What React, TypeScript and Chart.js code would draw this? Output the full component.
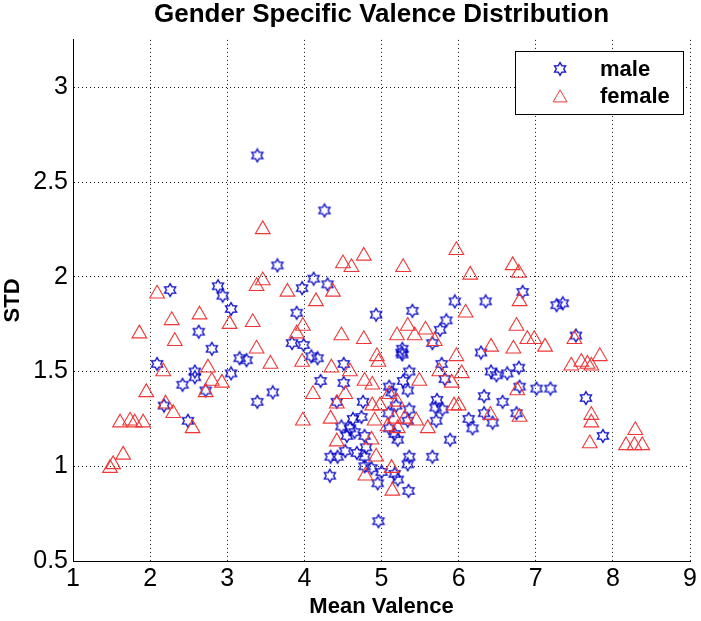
import React, { useEffect, useRef } from 'react';
import { Chart, registerables } from 'chart.js';
Chart.register(...registerables);

const TITLE = 'Gender Specific Valence Distribution';
const X_TITLE = 'Mean Valence';
const Y_TITLE = 'STD';
const seriesNames = ['male', 'female'];

const xTicks = [1, 2, 3, 4, 5, 6, 7, 8, 9];
const yTicks = [0.5, 1, 1.5, 2, 2.5, 3];
const yTickLabels = ['0.5', '1', '1.5', '2', '2.5', '3'];

const maleX = [3.39, 4.26, 3.65, 4.12, 4.30, 3.97, 2.88, 2.94, 3.05, 2.26, 3.90,
  2.63, 2.80, 3.84, 3.99, 3.16, 3.25, 4.09, 4.17, 2.09, 2.58, 2.58, 3.05, 2.42, 2.72,
  3.39, 3.59, 4.21, 4.51, 4.51, 4.42, 2.18, 2.49,
  4.48, 4.59, 4.55, 4.65, 4.63, 4.74, 4.76,
  4.53, 4.34, 4.43, 4.68, 4.78, 4.33,
  5.36, 5.28, 5.78, 5.82, 5.10, 5.13, 5.34, 5.19, 5.36, 5.72, 5.70, 5.79, 5.09, 5.34, 5.71,
  5.10, 5.17, 5.21, 4.78, 4.80, 5.36, 5.66, 5.34, 4.78, 4.87, 5.00, 5.17, 5.21, 4.95, 5.35, 4.96,
  5.26, 6.42, 6.29, 6.33, 6.13, 6.18, 6.44, 6.33, 5.89,
  5.95, 6.35, 5.40, 4.93, 5.84, 5.76, 5.66, 5.27, 5.27,
  6.83, 7.27, 7.35, 6.49, 6.63, 6.78, 6.79, 7.01, 7.19, 6.57, 6.75,
  7.52, 7.65, 7.87];
const maleY = [2.64, 2.35, 2.06, 1.99, 1.96, 1.94, 1.95, 1.90, 1.83, 1.93, 1.81,
  1.71, 1.62, 1.65, 1.64, 1.57, 1.56, 1.58, 1.57, 1.54, 1.50, 1.47, 1.49, 1.43, 1.40,
  1.34, 1.39, 1.45, 1.54, 1.44, 1.34, 1.32, 1.24,
  1.21, 1.20, 1.16, 1.18, 1.25, 1.26, 1.34,
  1.08, 1.05, 1.05, 1.07, 1.05, 0.95,
  1.50, 1.45, 1.54, 1.46, 1.42, 1.39, 1.40, 1.32, 1.30, 1.35, 1.31, 1.30, 1.28, 1.24, 1.24,
  1.20, 1.17, 1.14, 1.16, 1.10, 1.05, 1.05, 1.01, 1.00, 0.99, 0.97, 0.96, 0.93, 0.91, 0.87, 0.71,
  1.60, 1.50, 1.60, 1.37, 1.25, 1.20, 1.23, 1.28, 1.14,
  1.87, 1.87, 1.82, 1.80, 1.77, 1.72, 1.65, 1.62, 1.59,
  1.92, 1.85, 1.86, 1.48, 1.49, 1.52, 1.42, 1.41, 1.41, 1.34, 1.28,
  1.69, 1.36, 1.16];

const femaleX = [3.46, 4.50, 4.61, 4.77, 4.37, 3.78, 3.46, 3.38, 2.09, 4.15,
  2.28, 2.64, 3.03, 3.33, 1.86, 2.32, 3.38, 3.98, 3.90, 3.56, 3.97, 2.17, 2.75, 2.80, 2.93,
  2.72, 1.95, 4.11, 4.35, 4.59, 4.53, 4.42, 2.20, 2.30, 2.55, 1.61, 1.74, 1.80, 1.91,
  1.65, 1.52, 1.48, 3.98, 4.34, 4.78, 4.77, 4.48, 4.42,
  4.96, 5.49, 5.75, 4.88, 4.88, 4.98, 5.10, 5.20, 4.91, 5.17, 5.30, 5.45, 5.08, 5.21, 5.60,
  4.87, 4.93, 4.79, 5.13, 5.14,
  4.94, 5.97, 6.04, 5.91, 5.94, 6.00, 6.41,
  5.28, 5.97, 6.15, 6.09, 5.34, 5.57, 5.20, 5.43, 5.69, 6.42,
  6.79, 6.75, 6.89, 6.98, 7.12, 6.71, 6.76, 6.79, 6.70, 6.78,
  7.50, 7.83, 7.46, 7.59, 7.67, 7.72, 7.72, 7.72, 7.70, 8.29, 8.17, 8.28, 8.38];
const femaleY = [2.25, 2.07, 2.05, 2.11, 1.92, 1.92, 1.98, 1.95, 1.91, 1.87,
  1.77, 1.80, 1.75, 1.76, 1.70, 1.66, 1.62, 1.74, 1.70, 1.54, 1.55, 1.50, 1.52, 1.45, 1.44,
  1.39, 1.39, 1.38, 1.52, 1.50, 1.38, 1.33, 1.33, 1.28, 1.20, 1.23, 1.24, 1.23, 1.23,
  1.06, 1.01, 0.99, 1.24, 1.25, 1.45, 1.67, 1.69, 1.13,
  1.55, 1.45, 1.50, 1.43, 1.32, 1.32, 1.38, 1.34, 1.24, 1.25, 1.25, 1.24, 1.21, 1.20, 1.20,
  1.14, 1.05, 0.95, 0.99, 0.87,
  1.58, 1.58, 1.49, 1.44, 1.32, 1.32, 1.27,
  2.05, 2.14, 2.01, 1.81, 1.74, 1.72, 1.69, 1.69, 1.66, 1.63,
  1.87, 1.74, 1.67, 1.67, 1.63, 1.62, 1.40, 1.26, 2.06, 2.02,
  1.67, 1.58, 1.53, 1.55, 1.54, 1.53, 1.27, 1.23, 1.12, 1.19, 1.11, 1.11, 1.11];

const BLUE = '#0a0ac8';
const RED = 'rgb(240,55,55)';
const FONT = '"Liberation Sans", Arial, Helvetica, sans-serif';

function makeHexagram(color: string): HTMLCanvasElement {
  const c = document.createElement('canvas');
  c.width = 16;
  c.height = 16;
  const ctx = c.getContext('2d')!;
  const cx = 8, cy = 8, R = 6.4, r = R / Math.sqrt(3);
  ctx.beginPath();
  for (let i = 0; i < 12; i++) {
    const ang = -Math.PI / 2 + (i * Math.PI) / 6;
    const rad = i % 2 === 0 ? R : r;
    const x = cx + rad * Math.cos(ang);
    const y = cy + rad * Math.sin(ang);
    if (i === 0) ctx.moveTo(x, y);
    else ctx.lineTo(x, y);
  }
  ctx.closePath();
  ctx.strokeStyle = color;
  ctx.lineWidth = 1.3;
  ctx.stroke();
  return c;
}

export default function App() {
  const ref = useRef<HTMLCanvasElement | null>(null);

  useEffect(() => {
    document.body.style.margin = '0';
    const canvas = ref.current;
    if (!canvas) return;
    const star = makeHexagram(BLUE);

    const legendBox = {
      id: 'legendBox',
      afterDraw(chart: any) {
        const ctx = chart.ctx as CanvasRenderingContext2D;
        const a = chart.chartArea;
        const x0 = a.right - 175, y0 = a.top + 11, w = 168, h = 63;
        ctx.save();
        ctx.fillStyle = '#fff';
        ctx.fillRect(x0, y0, w, h);
        ctx.strokeStyle = '#000';
        ctx.lineWidth = 1;
        ctx.strokeRect(Math.round(x0) + 0.5, Math.round(y0) + 0.5, w, h);
        const mx = x0 + 45;
        const r1 = y0 + 18, r2 = y0 + 47;
        ctx.drawImage(star, mx - 8, r1 - 8);
        const tr = 8;
        ctx.beginPath();
        ctx.moveTo(mx, r2 - tr);
        ctx.lineTo(mx + tr * Math.sin((2 * Math.PI) / 3), r2 - tr * Math.cos((2 * Math.PI) / 3));
        ctx.lineTo(mx + tr * Math.sin((4 * Math.PI) / 3), r2 - tr * Math.cos((4 * Math.PI) / 3));
        ctx.closePath();
        ctx.strokeStyle = RED;
        ctx.stroke();
        ctx.fillStyle = '#000';
        ctx.font = 'bold 22px ' + FONT;
        ctx.textBaseline = 'middle';
        ctx.textAlign = 'left';
        ctx.fillText(seriesNames[0], x0 + 85, r1 + 1);
        ctx.fillText(seriesNames[1], x0 + 85, r2 - 1);
        ctx.restore();
      },
    };

    const chart = new Chart(canvas, {
      type: 'scatter',
      data: {
        datasets: [
          {
            label: seriesNames[0],
            data: maleX.map((x, i) => ({ x, y: maleY[i] })),
            pointStyle: star as any,
            pointRadius: 6,
            borderColor: BLUE,
            backgroundColor: BLUE,
            order: 1,
          },
          {
            label: seriesNames[1],
            data: femaleX.map((x, i) => ({ x, y: femaleY[i] })),
            pointStyle: 'triangle',
            pointRadius: 8.5,
            borderColor: RED,
            backgroundColor: 'rgba(0,0,0,0)',
            borderWidth: 1.1,
            order: 0,
          },
        ],
      },
      options: {
        responsive: false,
        animation: false,
        events: [],
        layout: { padding: { left: 0, right: 10, top: 0, bottom: 0 } },
        plugins: {
          legend: { display: false },
          tooltip: { enabled: false },
          title: {
            display: true,
            text: TITLE,
            fullSize: false,
            color: '#000',
            font: { family: FONT, size: 26, weight: 'bold', lineHeight: 1.15 },
            padding: { top: 0, bottom: 10 },
          },
        },
        scales: {
          x: {
            type: 'linear',
            min: xTicks[0],
            max: xTicks[xTicks.length - 1],
            afterBuildTicks: (s: any) => {
              s.ticks = xTicks.map((v) => ({ value: v }));
            },
            afterFit: (s: any) => {
              s.height = 60;
            },
            ticks: {
              color: '#000',
              font: { family: FONT, size: 25, lineHeight: 1.1 },
              padding: 4,
              maxRotation: 0,
              autoSkip: false,
              callback: (v: any) => String(v),
            },
            grid: { color: '#111', lineWidth: 1, drawTicks: false },
            border: { display: true, color: '#000', width: 1, dash: [1, 3] },
            title: {
              display: true,
              text: X_TITLE,
              color: '#000',
              font: { family: FONT, size: 22, weight: 'bold', lineHeight: 1.1 },
              padding: { top: 0, bottom: 2 },
            },
          },
          y: {
            type: 'linear',
            min: 0.5,
            max: 3.25,
            afterBuildTicks: (s: any) => {
              s.ticks = yTicks.map((v) => ({ value: v }));
            },
            afterFit: (s: any) => {
              s.width = 73;
            },
            ticks: {
              color: '#000',
              font: { family: FONT, size: 25, lineHeight: 1.1 },
              padding: 5,
              autoSkip: false,
              callback: (v: any) => {
                const i = yTicks.indexOf(Number(v));
                return i >= 0 ? yTickLabels[i] : '';
              },
            },
            grid: { color: '#111', lineWidth: 1, drawTicks: false },
            border: { display: true, color: '#000', width: 1, dash: [1, 3] },
            title: {
              display: true,
              text: Y_TITLE,
              color: '#000',
              font: { family: FONT, size: 22, weight: 'bold', lineHeight: 1.2 },
              padding: { top: 0, bottom: 0 },
            },
          },
        },
      },
      plugins: [legendBox],
    } as any);

    return () => {
      chart.destroy();
    };
  }, []);

  return (
    <div style={{ width: 701, height: 621, background: '#fff' }}>
      <canvas ref={ref} width={701} height={621} style={{ display: 'block', width: 701, height: 621 }} />
    </div>
  );
}
